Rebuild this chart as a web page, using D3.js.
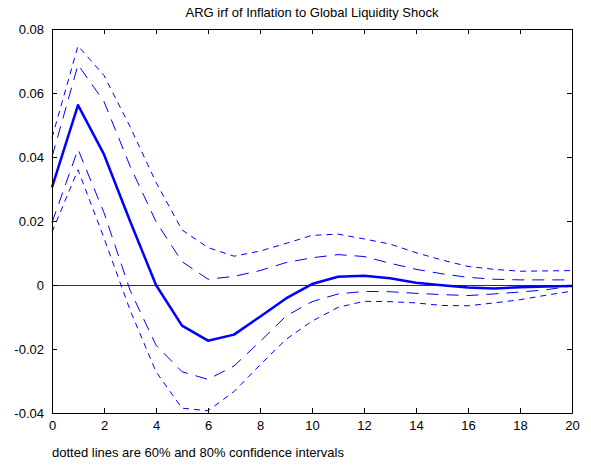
<!DOCTYPE html>
<html>
<head>
<meta charset="utf-8">
<script src="https://cdn.jsdelivr.net/npm/d3@7"></script>
<style>
  html, body { margin: 0; padding: 0; background: #fff; }
  svg { display: block; font-family: "Liberation Sans", Arial, sans-serif; }
</style>
</head>
<body>
<svg id="chart" width="591" height="466"></svg>
<script>
// Horizon (periods after the shock)
const periods = d3.range(0, 21);

// Impulse response of inflation (median)
const irf = [0.0305, 0.0562, 0.0408, 0.0200, 0.0000, -0.0127, -0.0174, -0.0155, -0.0099, -0.0042,
             0.0003, 0.0026, 0.0029, 0.0021, 0.0007, -0.0001, -0.0008, -0.0011, -0.0007, -0.0005, -0.0003];

// 60% band
const upper60 = [0.0400, 0.0688, 0.0573, 0.0372, 0.0198, 0.0073, 0.0018, 0.0027, 0.0045, 0.0070,
                 0.0085, 0.0095, 0.0089, 0.0068, 0.0049, 0.0035, 0.0024, 0.0018, 0.0016, 0.0016, 0.0016];
const lower60 = [0.0195, 0.0424, 0.0226, -0.0016, -0.0188, -0.0271, -0.0295, -0.0253, -0.0177, -0.0097,
                 -0.0052, -0.0028, -0.0020, -0.0021, -0.0026, -0.0030, -0.0033, -0.0028, -0.0022, -0.0015, -0.0003];

// 80% band
const upper80 = [0.0460, 0.0747, 0.0655, 0.0495, 0.0321, 0.0172, 0.0117, 0.0090, 0.0106, 0.0130,
                 0.0155, 0.0159, 0.0144, 0.0128, 0.0101, 0.0078, 0.0058, 0.0049, 0.0043, 0.0044, 0.0045];
const lower80 = [0.0165, 0.0360, 0.0147, -0.0078, -0.0271, -0.0385, -0.0393, -0.0333, -0.0250, -0.0170,
                 -0.0113, -0.0070, -0.0051, -0.0052, -0.0056, -0.0064, -0.0065, -0.0056, -0.0046, -0.0032, -0.0019];

const xTicks = d3.range(0, 21, 2);
const yTicks = [-0.04, -0.02, 0, 0.02, 0.04, 0.06, 0.08];

const titleText = "ARG irf of Inflation to Global Liquidity Shock";
const noteText = "dotted lines are 60% and 80% confidence intervals";

const svg = d3.select("#chart");
const margin = { left: 52, right: 19, top: 29, bottom: 53 };
const W = 591, H = 466;
const x0 = margin.left, x1 = W - margin.right;
const y0 = H - margin.bottom, y1 = margin.top;

const x = d3.scaleLinear().domain([0, 20]).range([x0, x1]);
const y = d3.scaleLinear().domain([-0.04, 0.08]).range([y0, y1]);

const blue = "#0000ff";
const line = d3.line().x((d, i) => x(periods[i])).y(d => y(d));

// zero reference line
svg.append("line")
  .attr("x1", x0).attr("x2", x1)
  .attr("y1", Math.round(y(0)) + 0.5).attr("y2", Math.round(y(0)) + 0.5)
  .attr("stroke", "#333").attr("stroke-width", 1);

// confidence bands
const bands = [
  { data: upper80, dash: "6,5" },
  { data: lower80, dash: "6,5" },
  { data: upper60, dash: "12,8" },
  { data: lower60, dash: "12,8" }
];
bands.forEach(b => {
  svg.append("path")
    .attr("d", line(b.data))
    .attr("fill", "none")
    .attr("stroke", blue)
    .attr("stroke-width", 1)
    .attr("stroke-dasharray", b.dash);
});

// median response
svg.append("path")
  .attr("d", line(irf))
  .attr("fill", "none")
  .attr("stroke", blue)
  .attr("stroke-width", 2.5)
  .attr("stroke-linejoin", "round");

// axes (box with inward ticks on all sides)
const tickLen = 5;
const fmtY = v => v === 0 ? "0" : d3.format(".2f")(v).replace("−", "-");

const axisB = d3.axisBottom(x).tickValues(xTicks).tickSizeInner(-tickLen).tickSizeOuter(0).tickPadding(8).tickFormat(d3.format("d"));
const axisT = d3.axisTop(x).tickValues(xTicks).tickSizeInner(-tickLen).tickSizeOuter(0).tickFormat("");
const axisL = d3.axisLeft(y).tickValues(yTicks).tickSizeInner(-tickLen).tickSizeOuter(0).tickPadding(8).tickFormat(fmtY);
const axisR = d3.axisRight(y).tickValues(yTicks).tickSizeInner(-tickLen).tickSizeOuter(0).tickFormat("");

function styleAxis(g) {
  g.select(".domain").attr("stroke", "#000").attr("stroke-width", 1);
  g.selectAll(".tick line").attr("stroke", "#000");
  g.selectAll(".tick text").attr("fill", "#000").attr("font-size", 13)
    .attr("font-family", "'Liberation Sans', Arial, sans-serif");
}

svg.append("g").attr("transform", `translate(0,${y0})`).call(axisB).call(styleAxis);
svg.append("g").attr("transform", `translate(0,${y1})`).call(axisT).call(styleAxis);
svg.append("g").attr("transform", `translate(${x0},0)`).call(axisL).call(styleAxis);
svg.append("g").attr("transform", `translate(${x1},0)`).call(axisR).call(styleAxis);

// title and note
svg.append("text")
  .attr("x", (x0 + x1) / 2).attr("y", 17)
  .attr("text-anchor", "middle")
  .attr("font-size", 13)
  .attr("fill", "#000")
  .text(titleText);

svg.append("text")
  .attr("x", x0).attr("y", 457)
  .attr("font-size", 13)
  .attr("fill", "#000")
  .text(noteText);
</script>
</body>
</html>
